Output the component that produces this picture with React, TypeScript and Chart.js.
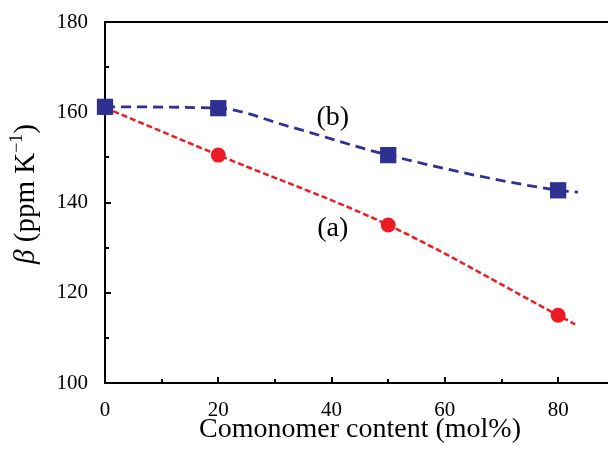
import React, { useEffect, useRef } from "react";
import { Chart, registerables } from "chart.js";

Chart.register(...registerables);

// Data
const xA = [0, 20, 50, 80];
const yA = [161, 150.5, 135, 115.0];
const xB = [0, 20, 50, 80];
const yB = [161.2, 160.9, 150.5, 142.7];

// Dashed trend curves
const curveAx = [0, 20, 50, 80, 83];
const curveAy = [161, 150.5, 135, 115.0, 113.0];
const curveBx = [0, 20, 32.6, 50, 80, 83.5];
const curveBy = [161.2, 160.9, 156.8, 150.5, 142.7, 142.3];

const xMajorTicks = [0, 20, 40, 60, 80];
const xMinorTicks = [10, 30, 50, 70];
const yMajorTicks = [100, 120, 140, 160, 180];
const yMinorTicks = [110, 130, 150, 170];

const labelA = { text: "(a)", x: 40.2, y: 134.3 };
const labelB = { text: "(b)", x: 40.2, y: 158.9 };

const RED = "#ED1C24";
const BLUE = "#2E3192";
const SERIF = "'Liberation Serif', 'Times New Roman', serif";

const pts = (xs: number[], ys: number[]) => xs.map((x, i) => ({ x, y: ys[i] }));

const decor = {
  id: "decor",
  beforeDatasetsDraw(chart: any) {
    const ctx = chart.ctx;
    const { left, right, top, bottom } = chart.chartArea;
    const xs = chart.scales.x;
    const ys = chart.scales.y;
    ctx.save();
    ctx.strokeStyle = "#000";
    ctx.lineWidth = 2;
    ctx.beginPath();
    ctx.moveTo(left, top);
    ctx.lineTo(right + 20, top);
    ctx.moveTo(left, top - 1);
    ctx.lineTo(left, bottom + 1);
    ctx.moveTo(left - 1, bottom);
    ctx.lineTo(right + 20, bottom);
    ctx.stroke();
    ctx.beginPath();
    for (const v of xMajorTicks) {
      const p = Math.round(xs.getPixelForValue(v));
      ctx.moveTo(p, bottom);
      ctx.lineTo(p, bottom - 6);
    }
    for (const v of xMinorTicks) {
      const p = Math.round(xs.getPixelForValue(v));
      ctx.moveTo(p, bottom);
      ctx.lineTo(p, bottom - 4);
    }
    for (const v of yMajorTicks) {
      const p = Math.round(ys.getPixelForValue(v));
      ctx.moveTo(left, p);
      ctx.lineTo(left + 6, p);
    }
    for (const v of yMinorTicks) {
      const p = Math.round(ys.getPixelForValue(v));
      ctx.moveTo(left, p);
      ctx.lineTo(left + 4, p);
    }
    ctx.stroke();
    ctx.restore();
  },
  afterDraw(chart: any) {
    const ctx = chart.ctx;
    const xs = chart.scales.x;
    const ys = chart.scales.y;
    ctx.save();
    ctx.fillStyle = "#000";
    // series labels
    ctx.font = `28px ${SERIF}`;
    ctx.textAlign = "center";
    ctx.textBaseline = "middle";
    for (const l of [labelA, labelB]) {
      ctx.fillText(l.text, xs.getPixelForValue(l.x), ys.getPixelForValue(l.y));
    }
    // x title
    ctx.textBaseline = "alphabetic";
    ctx.font = `28px ${SERIF}`;
    ctx.fillText("Comonomer content (mol%)", 360, 437);
    // y title
    ctx.save();
    ctx.translate(34, 194);
    ctx.rotate(-Math.PI / 2);
    ctx.textAlign = "left";
    const parts = [
      { t: "β", f: `italic 29px ${SERIF}`, dy: 0 },
      { t: " (ppm K", f: `29px ${SERIF}`, dy: 0 },
      { t: "−1", f: `18px ${SERIF}`, dy: -12 },
      { t: ")", f: `29px ${SERIF}`, dy: 0 },
    ];
    let total = 0;
    for (const p of parts) {
      ctx.font = p.f;
      total += ctx.measureText(p.t).width;
    }
    let cx = -total / 2;
    for (const p of parts) {
      ctx.font = p.f;
      ctx.fillText(p.t, cx, p.dy);
      cx += ctx.measureText(p.t).width;
    }
    ctx.restore();
    ctx.restore();
  },
};

export default function App() {
  const ref = useRef<HTMLCanvasElement>(null);
  useEffect(() => {
    if (!ref.current) return;
    const chart = new Chart(ref.current, {
      type: "line",
      data: {
        datasets: [
          {
            data: pts(curveBx, curveBy),
            borderColor: BLUE,
            borderWidth: 2.8,
            borderDash: [10, 6],
            pointRadius: 0,
            cubicInterpolationMode: "monotone",
            fill: false,
            clip: false,
          },
          {
            data: pts(xB, yB),
            showLine: false,
            pointStyle: "rect",
            pointRadius: 11.5,
            pointBackgroundColor: BLUE,
            pointBorderColor: BLUE,
            pointBorderWidth: 0,
            clip: false,
          },
          {
            data: pts(curveAx, curveAy),
            borderColor: RED,
            borderWidth: 2.5,
            borderDash: [6, 3],
            pointRadius: 0,
            cubicInterpolationMode: "monotone",
            fill: false,
            clip: false,
          },
          {
            data: pts(xA, yA),
            showLine: false,
            pointStyle: "circle",
            pointRadius: 7.5,
            pointBackgroundColor: RED,
            pointBorderColor: RED,
            pointBorderWidth: 0,
            clip: false,
          },
        ] as any,
      },
      options: {
        responsive: false,
        animation: false,
        events: [],
        layout: { autoPadding: false, padding: { top: 22, left: 0, right: 0, bottom: 0 } },
        plugins: { legend: { display: false }, tooltip: { enabled: false } },
        scales: {
          x: {
            type: "linear",
            min: 0,
            max: 88.8,
            afterFit: (s: any) => {
              s.height = 73;
              s.paddingLeft = 0;
              s.paddingRight = 0;
              s.paddingTop = 0;
              s.paddingBottom = 0;
            },
            grid: { display: false, drawTicks: false },
            border: { display: false },
            ticks: {
              stepSize: 20,
              includeBounds: false,
              color: "#000",
              font: { family: SERIF, size: 21 },
              padding: 15,
              maxRotation: 0,
              autoSkip: false,
            },
          },
          y: {
            type: "linear",
            min: 100,
            max: 180,
            afterFit: (s: any) => {
              s.width = 105;
              s.paddingLeft = 0;
              s.paddingRight = 0;
              s.paddingTop = 0;
              s.paddingBottom = 0;
            },
            grid: { display: false, drawTicks: false },
            border: { display: false },
            ticks: {
              stepSize: 20,
              color: "#000",
              font: { family: SERIF, size: 21 },
              padding: 17,
            },
          },
        },
      },
      plugins: [decor],
    } as any);
    return () => chart.destroy();
  }, []);
  return (
    <div style={{ position: "absolute", left: 0, top: 0, width: 608, height: 456 }}>
      <canvas ref={ref} width={608} height={456} />
    </div>
  );
}
